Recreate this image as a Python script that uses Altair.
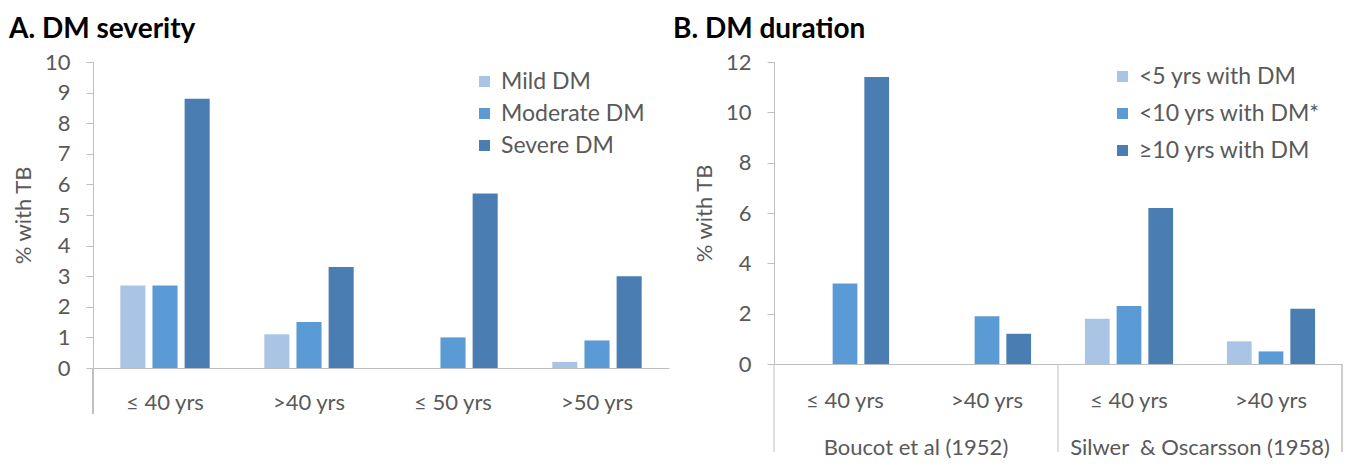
import altair as alt
import pandas as pd

FONT = "Lato"
GREY = "#595959"
LINE = "#BFBFBF"

# ---------- Panel A data ----------
a_groups = ["≤ 40 yrs", ">40 yrs", "≤ 50 yrs", ">50 yrs"]
a_series = ["Mild DM", "Moderate DM", "Severe DM"]
a_mild = [2.7, 1.1, None, 0.2]
a_moderate = [2.7, 1.5, 1.0, 0.9]
a_severe = [8.8, 3.3, 5.7, 3.0]
a_ticks = [0, 1, 2, 3, 4, 5, 6, 7, 8, 9, 10]

# ---------- Panel B data ----------
b_studies = ["Boucot et al (1952)", "Silwer\u00a0 & Oscarsson (1958)"]
b_group_study = [b_studies[0], b_studies[0], b_studies[1], b_studies[1]]
b_group_age = ["≤ 40 yrs", ">40 yrs", "≤ 40 yrs", ">40 yrs"]
b_series = ["<5 yrs with DM", "<10 yrs with DM*", "≥10 yrs with DM"]
b_lt5 = [None, None, 1.8, 0.9]
b_lt10 = [3.2, 1.9, 2.3, 0.5]
b_ge10 = [11.4, 1.2, 6.2, 2.2]
b_ticks = [0, 2, 4, 6, 8, 10, 12]

colors = ["#A9C4E5", "#5B9BD5", "#4A7EB3"]

rows_a = []
for s, vals in zip(a_series, [a_mild, a_moderate, a_severe]):
    for g, v in zip(a_groups, vals):
        if v is not None:
            rows_a.append({"group": g, "series": s, "value": v})
df_a = pd.DataFrame(rows_a)

b_keys = [f"{s}|{a}|{i}" for i, (s, a) in enumerate(zip(b_group_study, b_group_age))]
rows_b = []
for s, vals in zip(b_series, [b_lt5, b_lt10, b_ge10]):
    for k, v in zip(b_keys, vals):
        if v is not None:
            rows_b.append({"group": k, "series": s, "value": v})
df_b = pd.DataFrame(rows_b)
df_study = pd.DataFrame({"study": b_studies})

WA, HA = 576, 306
WB, HB = 568, 302


def y_axis(ticks):
    return alt.Axis(values=ticks, title="% with TB", grid=False, tickSize=7,
                    labelPadding=16, titleX=-58, titleBaseline="bottom",
                    domainColor=LINE, tickColor=LINE,
                    labelFont=FONT, labelFontSize=22, labelColor=GREY,
                    titleFont=FONT, titleFontSize=22, titleColor=GREY, titleFontWeight="normal")


def x_axis(pad, expr=None):
    kw = dict(title=None, labelAngle=0, domainColor=LINE, ticks=False,
              labelPadding=pad, labelFont=FONT, labelFontSize=22, labelColor=GREY)
    if expr:
        kw["labelExpr"] = expr
    return alt.Axis(**kw)


def legend(x, y, pad):
    return alt.Legend(title=None, orient="none", legendX=x, legendY=y, symbolType="square",
                      symbolSize=121, symbolStrokeWidth=0, labelFont=FONT, labelFontSize=23,
                      labelColor=GREY, rowPadding=pad, labelOffset=5, labelLimit=0)


bars_a = alt.Chart(df_a).mark_bar().encode(
    x=alt.X("group:N", sort=a_groups, scale=alt.Scale(paddingInner=0.33, paddingOuter=0.165),
            axis=x_axis(24)),
    xOffset=alt.XOffset("series:N", scale=alt.Scale(domain=a_series, paddingInner=0.22, paddingOuter=0.11)),
    y=alt.Y("value:Q", scale=alt.Scale(domain=[0, 10], nice=False), axis=y_axis(a_ticks)),
    color=alt.Color("series:N", scale=alt.Scale(domain=a_series, range=colors),
                    legend=legend(380, 8, 8)),
)
ext_a = alt.Chart(df_a).mark_rule(color=LINE).encode(
    x=alt.value(0), y=alt.value(HA), y2=alt.value(HA + 46)
)
chart_a = alt.layer(bars_a, ext_a).properties(
    width=WA, height=HA,
    title=alt.TitleParams("A. DM severity", anchor="start", font=FONT, fontSize=28,
                          fontWeight="bold", color="black", offset=7, dx=-3),
)

bars_b = alt.Chart(df_b).mark_bar().encode(
    x=alt.X("group:N", sort=b_keys, scale=alt.Scale(paddingInner=0.33, paddingOuter=0.165),
            axis=x_axis(26, "split(datum.value, '|')[1]")),
    xOffset=alt.XOffset("series:N", scale=alt.Scale(domain=b_series, paddingInner=0.22, paddingOuter=0.11)),
    y=alt.Y("value:Q", scale=alt.Scale(domain=[0, 12], nice=False), axis=y_axis(b_ticks)),
    color=alt.Color("series:N", scale=alt.Scale(domain=b_series, range=colors),
                    legend=legend(337, 3, 13)),
)
sep_b = alt.Chart(df_study).mark_rule(color=LINE).encode(
    x=alt.X("study:N", sort=b_studies, bandPosition=0,
            scale=alt.Scale(paddingInner=0, paddingOuter=0), axis=None),
    y=alt.value(HB), y2=alt.value(HB + 88),
)
end_b = alt.Chart(df_study).mark_rule(color=LINE).encode(
    x=alt.value(WB), y=alt.value(HB), y2=alt.value(HB + 88)
)
study_txt = alt.Chart(df_study).mark_text(font=FONT, fontSize=22, color=GREY, baseline="middle").encode(
    x=alt.X("study:N", sort=b_studies, scale=alt.Scale(paddingInner=0, paddingOuter=0), axis=None),
    y=alt.value(HB + 84),
    text="study:N",
)
chart_b = alt.layer(bars_b, sep_b, end_b, study_txt).resolve_scale(x="independent").properties(
    width=WB, height=HB,
    title=alt.TitleParams("B. DM duration", anchor="start", font=FONT, fontSize=28,
                          fontWeight="bold", color="black", offset=7, dx=-20),
)

chart = alt.hconcat(chart_a, chart_b, spacing=4).resolve_scale(
    color="independent", x="independent", y="independent", xOffset="independent"
).resolve_legend(color="independent").configure_view(stroke=None).properties(
    padding={"left": 1, "top": 8, "right": 0, "bottom": 0}
)

chart.save("out.html", embed_options={"renderer": "svg", "actions": False})
